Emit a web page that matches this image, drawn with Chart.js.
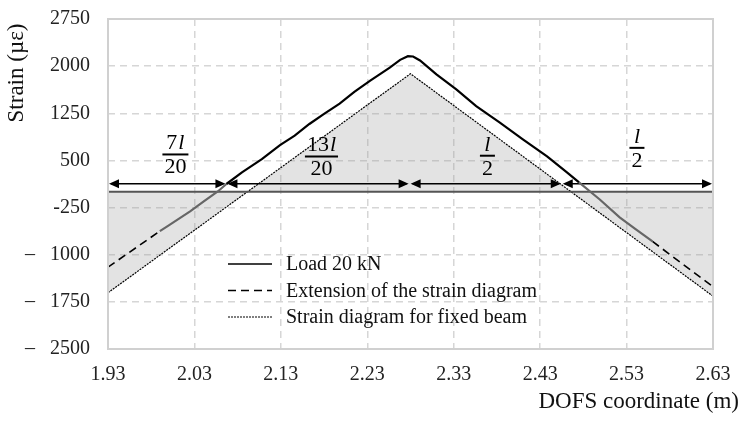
<!DOCTYPE html>
<html><head><meta charset="utf-8">
<script src="https://cdn.jsdelivr.net/npm/chart.js@4/dist/chart.umd.min.js"></script>
<style>html,body{margin:0;padding:0;background:#fff;}#wrap{width:746px;height:421px;}</style>
</head><body><div id="wrap"><canvas id="c" width="746" height="421"></canvas></div>
<script>
// ---- data ----
const xTicks = [1.93, 2.03, 2.13, 2.23, 2.33, 2.43, 2.53, 2.63];
const xTickLabels = ["1.93", "2.03", "2.13", "2.23", "2.33", "2.43", "2.53", "2.63"];
const yTicks = [-2500, -1750, -1000, -250, 500, 1250, 2000, 2750];
const yTickLabels = ["\u2013   2500", "\u2013   1750", "\u2013   1000", "-250", "500", "1250", "2000", "2750"];

const loadLabel = "Load 20 kN";
const loadX = [1.990, 1.999, 2.010, 2.025, 2.040, 2.057, 2.067, 2.085, 2.108, 2.129, 2.146, 2.163, 2.180, 2.198, 2.215, 2.233, 2.256, 2.268, 2.277, 2.283, 2.291, 2.310, 2.333, 2.356, 2.383, 2.410, 2.438, 2.461, 2.475, 2.499, 2.522, 2.540, 2.560];
const loadY = [-625, -546, -447, -312, -160, 6, 125, 310, 520, 745, 895, 1080, 1240, 1405, 1590, 1765, 1975, 2100, 2159, 2154, 2090, 1868, 1629, 1363, 1104, 834, 563, 309, 150, -121, -407, -590, -789];

const extLabel = "Extension of the strain diagram";
const extX = [1.93, 1.99, 2.28, 2.56, 2.63];
const extY = [-1198, -625, null, -789, -1510];

const fixedLabel = "Strain diagram for fixed beam";
const fixedX = [1.93, 2.28, 2.63];
const fixedY = [-1605, 1879, -1659];

// dimension arrows (span boundaries along the beam) and their level
const spanBounds = [1.93, 2.067, 2.279, 2.455, 2.63];
const spanLevel = 130;
const fracNum = ["7", "13", "", ""];
const fracDen = ["20", "20", "2", "2"];

// ---- helpers ----
const pts = (xs, ys) => xs.map((x, i) => ({x: x, y: ys[i]}));
const SERIF = "'Liberation Serif', 'Times New Roman', serif";

// label placement (annotation layout, in axis units)
const fracPos = [{x: 2.008, y: 595}, {x: 2.177, y: 563}, {x: 2.369, y: 575}, {x: 2.542, y: 700}];

const overlay = {
  id: 'overlay',
  afterDatasetDraw(chart, args) {
    if (args.index !== 2) return;
    const {ctx, chartArea: a, scales: {x, y}} = chart;
    ctx.save();
    const y0 = y.getPixelForValue(0);
    ctx.strokeStyle = '#555';
    ctx.lineWidth = 2;
    ctx.beginPath(); ctx.moveTo(a.left, y0); ctx.lineTo(a.right, y0); ctx.stroke();
    const ya = y.getPixelForValue(spanLevel);
    ctx.strokeStyle = '#000'; ctx.fillStyle = '#000'; ctx.lineWidth = 1.6;
    const L = 10, H = 4.5;
    for (let i = 0; i < spanBounds.length - 1; i++) {
      const x1 = x.getPixelForValue(spanBounds[i]) + 1;
      const x2 = x.getPixelForValue(spanBounds[i + 1]) - 1;
      ctx.beginPath(); ctx.moveTo(x1 + 2, ya); ctx.lineTo(x2 - 2, ya); ctx.stroke();
      ctx.beginPath(); ctx.moveTo(x1, ya); ctx.lineTo(x1 + L, ya - H); ctx.lineTo(x1 + L, ya + H); ctx.closePath(); ctx.fill();
      ctx.beginPath(); ctx.moveTo(x2, ya); ctx.lineTo(x2 - L, ya - H); ctx.lineTo(x2 - L, ya + H); ctx.closePath(); ctx.fill();
    }
    ctx.restore();
  },
  afterDraw(chart) {
    const {ctx, chartArea: a, scales: {x, y}} = chart;
    ctx.save();
    ctx.strokeStyle = '#d0d0d0'; ctx.lineWidth = 2; ctx.setLineDash([]);
    ctx.strokeRect(a.left, a.top, a.right - a.left, a.bottom - a.top);
    ctx.fillStyle = '#000'; ctx.strokeStyle = '#000';
    const fs = 22;
    fracPos.forEach((p, i) => {
      const cx = x.getPixelForValue(p.x), by = y.getPixelForValue(p.y);
      ctx.font = fs + 'px ' + SERIF;
      const wn = ctx.measureText(fracNum[i]).width;
      ctx.font = 'italic ' + fs + 'px ' + SERIF;
      const wl = ctx.measureText('l').width;
      const wNum = wn + wl + (fracNum[i] ? 1 : 0);
      ctx.font = fs + 'px ' + SERIF;
      const wDen = ctx.measureText(fracDen[i]).width;
      const bw = Math.max(wNum, wDen) + 4;
      ctx.textBaseline = 'alphabetic'; ctx.textAlign = 'left';
      const nx = cx - wNum / 2;
      ctx.fillText(fracNum[i], nx, by - 5);
      ctx.font = 'italic ' + fs + 'px ' + SERIF;
      ctx.fillText('l', nx + wn + (fracNum[i] ? 1 : 0), by - 5);
      ctx.lineWidth = 2;
      ctx.beginPath(); ctx.moveTo(cx - bw / 2, by); ctx.lineTo(cx + bw / 2, by); ctx.stroke();
      ctx.font = fs + 'px ' + SERIF;
      ctx.textAlign = 'center';
      ctx.fillText(fracDen[i], cx, by + 19);
    });
    const ds = chart.data.datasets;
    const lx0 = 228, lx1 = 272, ly0 = 264, ldy = 26.5;
    [0, 1, 2].forEach((k, j) => {
      const d = ds[k];
      const yy = ly0 + j * ldy;
      ctx.strokeStyle = '#000';
      ctx.lineWidth = d.legendWidth;
      ctx.setLineDash(d.borderDash || []);
      ctx.beginPath(); ctx.moveTo(lx0, yy); ctx.lineTo(lx1, yy); ctx.stroke();
      ctx.setLineDash([]);
      ctx.font = '20px ' + SERIF; ctx.textAlign = 'left'; ctx.textBaseline = 'middle';
      ctx.fillStyle = '#111';
      ctx.fillText(d.label, 286, yy + 1);
    });
    ctx.font = '23px ' + SERIF; ctx.fillStyle = '#111';
    ctx.textAlign = 'right'; ctx.textBaseline = 'middle';
    ctx.fillText('DOFS coordinate (m)', 739, 402);
    ctx.translate(17, 73); ctx.rotate(-Math.PI / 2);
    ctx.textAlign = 'center';
    ctx.fillText('Strain (\u00b5\u03b5)', 0, 0);
    ctx.restore();
  }
};

new Chart(document.getElementById('c'), {
  type: 'line',
  data: {
    datasets: [
      {
        label: loadLabel, data: pts(loadX, loadY),
        borderColor: '#000', borderWidth: 2.2, legendWidth: 1.6, pointRadius: 0, fill: false, tension: 0,
        segment: {borderColor: c => (c.p0.parsed.y < 100 || c.p1.parsed.y < 100) ? '#666' : '#000'}
      },
      {
        label: extLabel, data: pts(extX, extY),
        borderColor: '#000', borderWidth: 1.6, legendWidth: 1.6, borderDash: [8, 5], pointRadius: 0, fill: false, spanGaps: false
      },
      {
        label: fixedLabel, data: pts(fixedX, fixedY),
        borderColor: '#000', borderWidth: 1.2, legendWidth: 1.1, borderDash: [2, 1], pointRadius: 0,
        fill: 'origin', backgroundColor: 'rgba(150,150,150,0.27)'
      }
    ]
  },
  options: {
    responsive: false, animation: false,
    layout: {padding: {left: 0, right: 33, top: 19, bottom: 0}},
    plugins: {legend: {display: false}, tooltip: {enabled: false}},
    scales: {
      x: {
        type: 'linear', min: 1.93, max: 2.63,
        afterBuildTicks: s => { s.ticks = xTicks.map(v => ({value: v})); },
        ticks: {callback: v => xTickLabels[xTicks.indexOf(v)], font: {family: SERIF, size: 20}, color: '#222', padding: 14, maxRotation: 0, autoSkip: false},
        grid: {color: '#d6d6d6', lineWidth: 1.5, drawTicks: false},
        border: {display: false, dash: [7, 5]},
        afterFit: s => { s.height = 72; s.paddingLeft = 0; s.paddingRight = 0; }
      },
      y: {
        type: 'linear', min: -2500, max: 2750,
        afterBuildTicks: s => { s.ticks = yTicks.map(v => ({value: v})); },
        ticks: {callback: v => yTickLabels[yTicks.indexOf(v)], font: {family: SERIF, size: 20}, color: '#222', padding: 18, autoSkip: false},
        grid: {color: '#d6d6d6', lineWidth: 1.5, drawTicks: false},
        border: {display: false, dash: [7, 5]},
        afterFit: s => { s.width = 108; s.paddingTop = 0; s.paddingBottom = 0; }
      }
    }
  },
  plugins: [overlay]
});
</script>
</body></html>
